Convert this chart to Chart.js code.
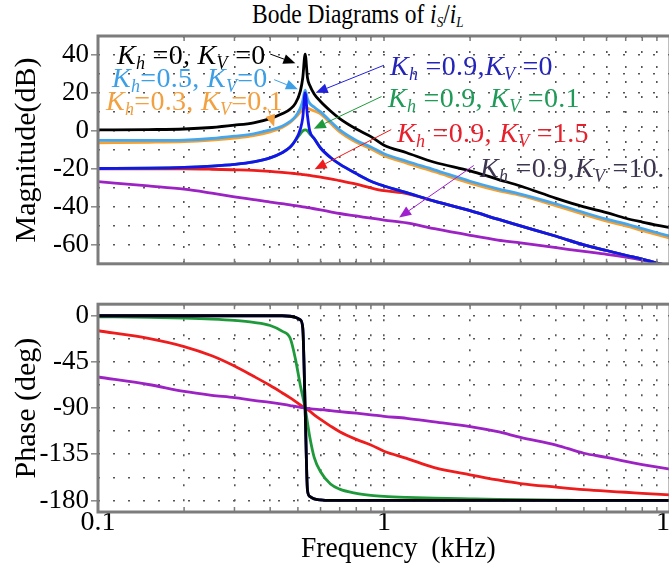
<!DOCTYPE html>
<html>
<head>
<meta charset="utf-8">
<script src="https://cdn.jsdelivr.net/npm/chart.js@4.4.0/dist/chart.umd.min.js"></script>
<style>
  body { margin:0; width:669px; height:564px; overflow:hidden; position:relative; background:#fff; font-family:"Liberation Serif", serif; }
  canvas { position:absolute; left:0; }
  .lbl { position:absolute; font-size:28px; line-height:1; white-space:nowrap; z-index:2; letter-spacing:0.3px; }
  .lbl sub { font-size:18px; font-style:italic; vertical-align:-5px; line-height:0; }
  #title { position:absolute; left:252px; top:1px; font-size:27px; line-height:1; white-space:nowrap; transform:scaleX(0.87); transform-origin:left top; }
  #title sub { font-size:15px; vertical-align:-4px; line-height:0; }
  #xtitle { position:absolute; left:301px; top:532px; font-size:30px; line-height:1; white-space:nowrap; transform:scaleX(0.92); transform-origin:left top; }
</style>
</head>
<body>
<div id="title">Bode Diagrams of <i>i</i><sub><i>S</i></sub>/<i>i</i><sub><i>L</i></sub></div>
<canvas id="mag" width="684" height="282" style="top:0"></canvas>
<canvas id="phase" width="684" height="278" style="top:286px"></canvas>
<div id="xtitle">Frequency&nbsp; (kHz)</div>

<div class="lbl" style="left:117px;top:41px;color:#000"><i>K</i><sub>h</sub> =0, <i>K</i><sub>V</sub> =0</div>
<div class="lbl" style="left:112px;top:64px;color:#3d9fe6"><i>K</i><sub>h</sub>=0.5, <i>K</i><sub>V</sub>=0</div>
<div class="lbl" style="left:106px;top:87px;color:#f2a040"><i>K</i><sub>h</sub>=0.3, <i>K</i><sub>V</sub>=0.1</div>
<div class="lbl" style="left:390px;top:52px;color:#2424b8"><i>K</i><sub>h</sub> =0.9,<i>K</i><sub>V</sub> =0</div>
<div class="lbl" style="left:388px;top:84px;color:#1f9a58"><i>K</i><sub>h</sub> =0.9, <i>K</i><sub>V</sub> =0.1</div>
<div class="lbl" style="left:397px;top:119px;color:#e8202c"><i>K</i><sub>h</sub> =0.9, <i>K</i><sub>V</sub> =1.5</div>
<div class="lbl" style="left:480px;top:154px;color:#3e3550"><i>K</i><sub>h</sub> =0.9,<i>K</i><sub>V</sub> =10.</div>

<script>
// frequency points (kHz)
const freq = [0.1, 0.15, 0.2, 0.25, 0.3, 0.35, 0.4, 0.44, 0.47, 0.49, 0.51, 0.52, 0.53, 0.54, 0.55, 0.57, 0.6, 0.65, 0.7, 0.8, 0.9, 1, 1.2, 1.5, 2, 2.5, 3, 4, 5, 6, 7, 8, 10];

// magnitude (dB)
const magK0 =   [0.5, 0.7, 1.0, 1.8, 3, 4.3, 6.5, 9, 11.5, 14.5, 21, 28, 40.5, 28, 24, 19.5, 15.5, 10.5, 6.5, 1, -3, -7.5, -11.5, -16.5, -21, -25.5, -29, -35.5, -40, -43, -46, -48, -51];
const magK05 =  [-5, -5, -4.8, -4, -2.8, -1.5, 0.5, 2.5, 5, 7.5, 12, 16, 21.5, 17, 14.5, 12.5, 10, 5, 0.5, -5, -8.5, -12, -16, -20.5, -26.5, -30.5, -33.3, -38.5, -43, -46.5, -49, -51.5, -55.5];
const magK03 =  [-6.3, -6, -5.6, -4.8, -3.8, -2.5, -0.5, 1.8, 4.5, 7, 10, 11.5, 12.3, 12, 11.5, 10.5, 9, 4, -0.5, -6, -9.5, -13, -17, -21.5, -27.5, -31.5, -34, -39.5, -44, -47.5, -50, -52.5, -56.5];
const magK09 =  [-19.8, -19.6, -19.2, -18.5, -17.6, -16.3, -14.2, -11.5, -8.5, -5, 1, 7, 20, 8, 0, -4, -9, -14, -17.5, -22.5, -26.5, -29, -32.5, -37, -42, -46.5, -50, -55.5, -60, -63, -65.5, -67.5, -71.5];
const magKv01 = [-19.8, -19.6, -19.2, -18.5, -17.6, -16.3, -14.2, -11.5, -8.5, -5, -1.5, 0, 0.5, 0, -1.5, -4, -9, -14, -17.5, -22.5, -26.5, -29, -32.5, -37, -42, -46.5, -50, -55.5, -60, -63, -65.5, -67.5, -71.5];
const magKv15 = [-20, -20, -20, -20.2, -20.5, -20.8, -21.3, -21.8, -22.2, -22.5, -22.8, -23, -23.1, -23.3, -23.4, -23.8, -24.3, -25.2, -26.2, -28, -30, -31.5, -33, -37, -42, -46.5, -50, -55.5, -60, -63, -65.5, -67.5, -71.5];
const magKv10 = [-26.7, -29, -30.7, -32.8, -34.7, -36.2, -37.5, -38.3, -39, -39.4, -39.8, -40, -40.2, -40.4, -40.6, -41, -41.6, -42.6, -43.5, -44.8, -46, -47, -48.5, -51.5, -55, -57.5, -59, -61.5, -63.5, -65, -66.5, -68, -71];

// phase (deg)
const phK09 =   [0, 0, 0, 0, 0, 0, 0, 0, -0.5, -1.5, -4, -12, -90, -170, -176, -178.5, -179.5, -180, -180, -180, -180, -180, -180, -180, -180, -180, -180, -180, -180, -180, -180, -180, -180];
const phK0 =    [0, 0, 0, 0, 0, 0, 0, 0, -0.5, -1.5, -4, -12, -90, -170, -176, -178.5, -179.5, -180, -180, -180, -180, -180, -180, -180, -180, -180, -180, -180, -180, -180, -180, -180, -180];
const phKv01 =  [-1, -1.5, -2.3, -3.3, -4.6, -6.5, -9.5, -15, -22, -42, -68, -79, -90, -104, -118, -138, -152, -164, -169, -173, -175, -176, -177, -177.8, -178.5, -179, -179.3, -179.6, -180, -180, -180, -180, -180];
const phKv15 =  [-14.6, -22, -30, -39, -49, -59, -68, -75, -80, -83.5, -87, -88.5, -90, -91.5, -93, -96.5, -101, -107.5, -113, -120.5, -126, -132, -139, -148, -155, -160, -163.5, -167, -169.5, -171, -172, -173, -174.5];
const phKv10 =  [-59.7, -67, -73.8, -77.5, -79.8, -82.5, -84.5, -86.2, -87.5, -88.3, -89.2, -89.6, -90, -90.3, -90.6, -91, -91.5, -92.5, -93.5, -95, -96.5, -98, -100, -103.5, -108, -113, -118.5, -126, -134, -138, -142, -145, -149.5];

// axis ticks
const xTicks = [0.1, 0.2, 0.3, 0.4, 0.5, 0.6, 0.7, 0.8, 0.9, 1, 2, 3, 4, 5, 6, 7, 8, 9, 10];
const xLabels = [0.1, 1, 10];
const magTicks = [-70, -60, -50, -40, -30, -20, -10, 0, 10, 20, 30, 40, 50];
const magLabels = [-60, -40, -20, 0, 20, 40];
const phTicks = [0, -22.5, -45, -67.5, -90, -112.5, -135, -157.5, -180];
const phLabels = [0, -45, -90, -135, -180];

// annotation arrows in data space [freq, dB]
const arrows = [
  { c: '#000000', from: [0.40, 40.5], to: [0.49, 35.6] },
  { c: '#3d9fe6', from: [0.413, 27], to: [0.50, 22] },
  { c: '#f2a040', from: [0.393, 11.7], to: [0.413, 2.2] },
  { c: '#2222dd', from: [1.0, 34.6], to: [0.577, 20.1] },
  { c: '#1f9a3a', from: [0.98, 18.1], to: [0.568, 1.2] },
  { c: '#ee1c1c', from: [1.06, 0.7], to: [0.572, -20.2] },
  { c: '#a020d0', from: [2.06, -18.2], to: [1.13, -45.6] }
];

const pts = arr => freq.map((f, i) => ({ x: f, y: arr[i] }));
const line = (arr, color) => ({ data: pts(arr), borderColor: color, borderWidth: 2.8, pointRadius: 0, cubicInterpolationMode: 'monotone', fill: false });

const serif = '"Liberation Serif", "Times New Roman", serif';
const gridDots = { color: '#555', lineWidth: 1.6, tickBorderDash: [], tickColor: '#888', tickLength: 7, tickWidth: 1.5 };

const framePlugin = {
  id: 'frame',
  afterDraw(chart) {
    const { ctx, chartArea: a, scales } = chart;
    ctx.save();
    ctx.strokeStyle = '#7c7c7c';
    ctx.lineWidth = 1.5;
    scales.x.ticks.forEach(t => {
      const px = scales.x.getPixelForValue(t.value);
      ctx.beginPath();
      ctx.moveTo(px, a.top); ctx.lineTo(px, a.top + 5);
      ctx.moveTo(px, a.bottom); ctx.lineTo(px, a.bottom - 5);
      ctx.stroke();
    });
    ctx.lineWidth = 3;
    ctx.strokeRect(a.left, a.top, a.right - a.left, a.bottom - a.top);
    ctx.restore();
  }
};

const arrowPlugin = {
  id: 'arrows',
  afterDatasetsDraw(chart) {
    const { ctx, scales } = chart;
    ctx.save();
    arrows.forEach(ar => {
      const x1 = scales.x.getPixelForValue(ar.from[0]), y1 = scales.y.getPixelForValue(ar.from[1]);
      const x2 = scales.x.getPixelForValue(ar.to[0]), y2 = scales.y.getPixelForValue(ar.to[1]);
      const ang = Math.atan2(y2 - y1, x2 - x1);
      const len = 12, w = 5;
      ctx.strokeStyle = ar.c; ctx.fillStyle = ar.c; ctx.lineWidth = 1;
      ctx.beginPath(); ctx.moveTo(x1, y1); ctx.lineTo(x2 - len * Math.cos(ang), y2 - len * Math.sin(ang)); ctx.stroke();
      ctx.beginPath();
      ctx.moveTo(x2, y2);
      ctx.lineTo(x2 - len * Math.cos(ang) + w * Math.sin(ang), y2 - len * Math.sin(ang) - w * Math.cos(ang));
      ctx.lineTo(x2 - len * Math.cos(ang) - w * Math.sin(ang), y2 - len * Math.sin(ang) + w * Math.cos(ang));
      ctx.closePath(); ctx.fill();
    });
    ctx.restore();
  }
};

function xAxis(showLabels, height) {
  return {
    type: 'logarithmic', min: 0.1, max: 10,
    afterBuildTicks: s => { s.ticks = xTicks.map(v => ({ value: v })); },
    afterFit: s => { s.height = height; },
    border: { display: false, dash: [2, 13] },
    grid: Object.assign({}, gridDots, { drawTicks: false }),
    ticks: {
      display: showLabels, autoSkip: false, maxRotation: 0, padding: -3, color: '#000',
      font: { family: serif, size: 28, lineHeight: 1 },
      callback: v => xLabels.includes(v) ? String(v) : ''
    }
  };
}

function yAxis(min, max, ticks, labels, title) {
  return {
    min: min, max: max,
    afterBuildTicks: s => { s.ticks = ticks.map(v => ({ value: v })); },
    afterFit: s => { s.width = 98; },
    border: { display: false, dash: [2, 13] },
    grid: Object.assign({}, gridDots, {
      tickColor: c => labels.includes(c.tick.value) ? '#888' : 'rgba(0,0,0,0)'
    }),
    ticks: {
      autoSkip: false, padding: 2, color: '#000',
      font: { family: serif, size: 27 },
      callback: v => labels.includes(v) ? String(v) : ''
    },
    title: { display: true, text: title, color: '#000', font: { family: serif, size: 30 }, padding: { top: 9, bottom: 0 } }
  };
}

new Chart(document.getElementById('mag'), {
  type: 'line',
  data: {
    datasets: [
      line(magK0, '#000000'),
      line(magK09, '#1414ee'),
      line(magKv01, '#1f9a3a'),
      line(magK05, '#45a6ec'),
      line(magK03, '#f5a033'),
      line(magKv15, '#ee1c1c'),
      line(magKv10, '#9c22c4')
    ]
  },
  options: {
    responsive: false, animation: false,
    layout: { padding: { top: 36, right: 14, bottom: 4, left: 0 } },
    plugins: { legend: { display: false }, tooltip: { enabled: false } },
    scales: {
      x: xAxis(false, 0),
      y: yAxis(-70, 50, magTicks, magLabels, 'Magnitude(dB)')
    }
  },
  plugins: [framePlugin, arrowPlugin]
});

new Chart(document.getElementById('phase'), {
  type: 'line',
  data: {
    datasets: [
      line(phK0, '#000000'),
      line(phK09, '#1414ee'),
      line(phKv01, '#1f9a3a'),
      line(phKv10, '#9c22c4'),
      line(phKv15, '#ee1c1c')
    ]
  },
  options: {
    responsive: false, animation: false,
    layout: { padding: { top: 10, right: 14, bottom: 0, left: 0 } },
    plugins: { legend: { display: false }, tooltip: { enabled: false } },
    scales: {
      x: xAxis(true, 52),
      y: yAxis(-191.25, 11.25, phTicks, phLabels, 'Phase (deg)')
    }
  },
  plugins: [framePlugin]
});
</script>
</body>
</html>
